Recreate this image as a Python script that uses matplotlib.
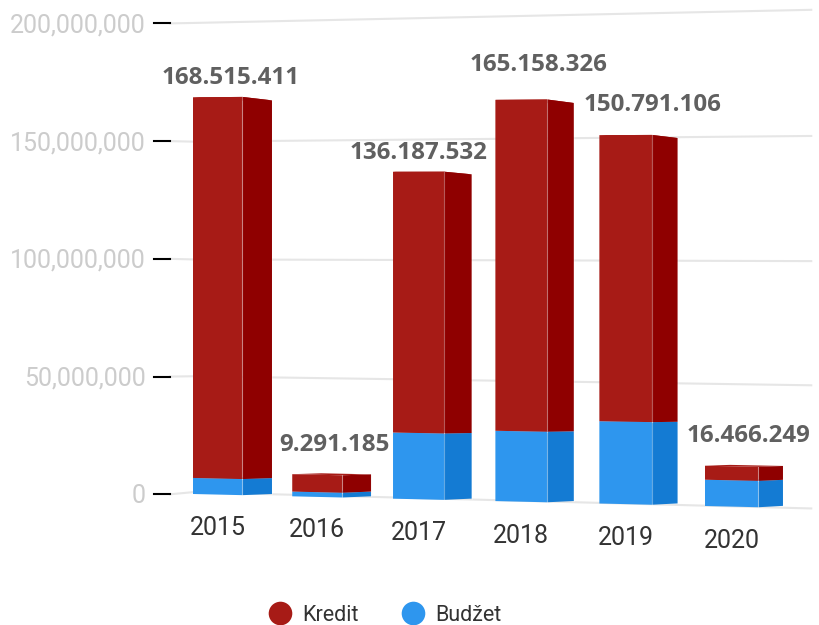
import matplotlib
matplotlib.use("Agg")
import matplotlib.pyplot as plt
from matplotlib.lines import Line2D

# values in millions
years = ["2015", "2016", "2017", "2018", "2019", "2020"]
kredit = [161.3, 7.3, 108.8, 137.0, 117.5, 5.7]
budzet = [6.8, 2.0, 27.6, 29.1, 33.8, 10.7]
total_labels = ["168.515.411", "9.291.185", "136.187.532", "165.158.326", "150.791.106", "16.466.249"]
y_ticks = [0, 50, 100, 150, 200]
y_tick_labels = ["0", "50,000,000", "100,000,000", "150,000,000", "200,000,000"]

# camera for the tilted 3d look
bar_w = 0.5
label_dx = [-11.5, -8, -25, -9, 1, -10]
label_dy = [-19, -30, -19, -34, -30, -31]


def project(c, v, z):
    w = 1 - 0.00766 * c + 0.01166 * z
    px = (193 + 97 * c + 32.63 * z) / w
    py = (494 - 1.48 * c - 2.36 * v + 4.6 * z) / w
    return px, py


def draw_box(ax, i, v0, v1, front, side):
    c0, c1 = i, i + bar_w
    faces = [
        ([(c0, v1, 1), (c1, v1, 1), (c1, v1, 0), (c0, v1, 0)], front),
        ([(c0, v0, 0), (c1, v0, 0), (c1, v1, 0), (c0, v1, 0)], front),
        ([(c1, v0, 0), (c1, v0, 1), (c1, v1, 1), (c1, v1, 0)], side),
    ]
    for pts, col in faces:
        xy = [project(*p) for p in pts]
        ax.fill(*zip(*xy), color=col, lw=0, zorder=3)
    # thin light edges where the faces meet
    for a, b in [((c1, v0, 0), (c1, v1, 0)), ((c1, v0, 1), (c1, v1, 1))]:
        xs, ys = zip(project(*a), project(*b))
        ax.plot(xs, ys, color="white", alpha=0.35, lw=0.8, zorder=4)


fig = plt.figure(figsize=(8.2, 6.25), dpi=100)
ax = fig.add_axes([0, 0, 1, 1])
ax.set_xlim(0, 820)
ax.set_ylim(625, 0)
ax.axis("off")

# grid and ticks
for t, lab in zip(y_ticks, y_tick_labels):
    _, ty = project(-0.3, t, 0)
    ty += 1
    # the wall spreads a bit more towards the top than the bars do
    wall = t + 0.00008 * t * (t - 100)
    lx, ly = project(-0.31, wall, 1)
    rx, ry = project(5.99, wall, 0)
    ax.plot([170, lx, rx], [ty, ly, ry], color="#e6e6e6", lw=1.5, zorder=1)
    ax.plot([154, 170], [ty, ty], color="black", lw=1.5, zorder=2)
    ax.text(146, ty + 2, lab, ha="right", va="center", color="#cccccc",
            fontsize=18, family="Roboto")

# bars
for i in range(len(years)):
    b = budzet[i]
    top = b + kredit[i]
    draw_box(ax, i, 0, b, "#2e96ee", "#147bd3")
    draw_box(ax, i, b, top, "#a71b16", "#8f0000")

    rx, ry = project(i + bar_w, top, 0)
    ax.text(rx + label_dx[i], ry + label_dy[i], total_labels[i], ha="center", va="center",
            color="#606060", fontsize=17.4, fontweight="bold", family="Open Sans", zorder=5)

    lx, ly = project(i + bar_w / 2, -14, 0)
    ax.text(lx, ly, years[i], ha="center", va="center", color="#333333",
            fontsize=18, family="Roboto")

handles = [
    Line2D([], [], ls="none", marker="o", ms=17, mec="none", color="#a71b16"),
    Line2D([], [], ls="none", marker="o", ms=17, mec="none", color="#2e96ee"),
]
leg = ax.legend(handles, ["Kredit", "Budžet"], ncol=2, loc="center", bbox_to_anchor=(381, 615.5),
                bbox_transform=ax.transData, frameon=False, handlelength=1.8, handletextpad=0.1,
                columnspacing=1.65, prop={"family": "Roboto", "size": 15.5})
for txt in leg.get_texts():
    txt.set_color("#333333")

fig.savefig("out.png", dpi=100)
